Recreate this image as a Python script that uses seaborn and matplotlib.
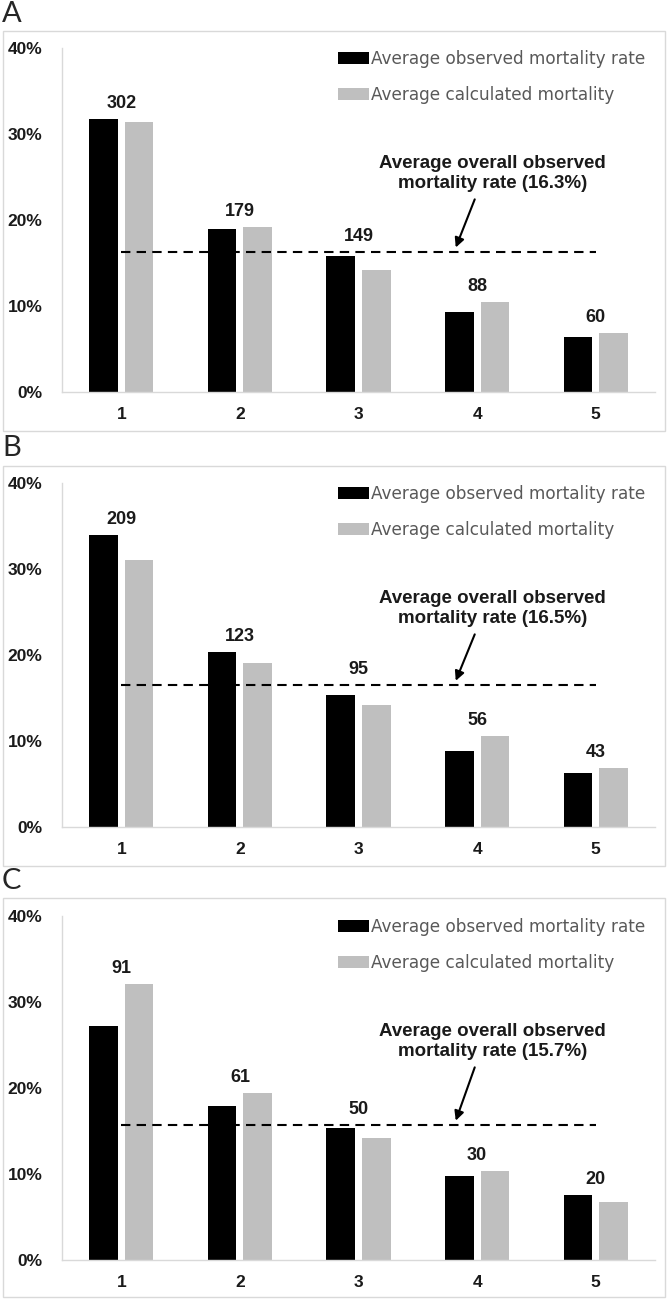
import matplotlib
matplotlib.use("Agg")
import matplotlib.pyplot as plt
from matplotlib.patches import Rectangle
import seaborn as sns
import pandas as pd

# quintile groups
groups = ["1", "2", "3", "4", "5"]
series_names = ["Average observed mortality rate", "Average calculated mortality"]

# panel A
obs_A = [31.7, 18.9, 15.8, 9.3, 6.4]
calc_A = [31.4, 19.2, 14.2, 10.5, 6.9]
n_A = [302, 179, 149, 88, 60]
avg_A = 16.3

# panel B
obs_B = [34.0, 20.3, 15.3, 8.8, 6.3]
calc_B = [31.1, 19.1, 14.2, 10.6, 6.9]
n_B = [209, 123, 95, 56, 43]
avg_B = 16.5

# panel C
obs_C = [27.2, 17.9, 15.3, 9.8, 7.6]
calc_C = [32.1, 19.4, 14.2, 10.4, 6.7]
n_C = [91, 61, 50, 30, 20]
avg_C = 15.7

panel_letters = ["A", "B", "C"]

sns.set_theme(style="white")
plt.rcParams['font.family'] = ['Liberation Sans', 'DejaVu Sans']

W, H = 668, 1299
fig = plt.figure(figsize=(W / 100, H / 100), dpi=100)

panels = [
    (obs_A, calc_A, n_A, avg_A),
    (obs_B, calc_B, n_B, avg_B),
    (obs_C, calc_C, n_C, avg_C),
]
# pixel layout: (axes top, axes bottom, frame top, frame bottom, letter top)
layout = [
    (48, 392, 31, 431, 1),
    (483, 827, 466, 866, 435),
    (916, 1260, 898, 1297, 868),
]

black = "#000000"
grey = "#bfbfbf"

for i, (obs, calc, ns, avg) in enumerate(panels):
    top, bot, ftop, fbot, ltop = layout[i]
    # frame round the panel
    fig.patches.append(Rectangle((3 / W, 1 - fbot / H), 662 / W, (fbot - ftop) / H,
                                 transform=fig.transFigure, fill=False,
                                 edgecolor="#d9d9d9", lw=1.0, zorder=0))
    fig.text(2 / W, 1 - ltop / H, panel_letters[i], fontsize=21, family='Lato',
             va='top', ha='left')

    ax = fig.add_axes([62 / W, 1 - bot / H, 593 / W, (bot - top) / H])
    df = pd.DataFrame({
        "group": groups * 2,
        "series": [series_names[0]] * 5 + [series_names[1]] * 5,
        "value": obs + calc,
    })
    sns.barplot(data=df, x="group", y="value", hue="series", hue_order=series_names,
                palette=[black, grey], width=0.6, gap=0.2, linewidth=0,
                ax=ax, legend=True)

    ax.set_xlim(-0.5, 4.5)
    ax.set_ylim(0, 40)
    ax.set_yticks([0, 10, 20, 30, 40])
    ax.set_yticklabels([f"{t}%" for t in [0, 10, 20, 30, 40]])
    ax.set_xlabel("")
    ax.set_ylabel("")
    ax.tick_params(length=0)
    ax.tick_params(axis='y', pad=14, labelsize=12.5)
    ax.tick_params(axis='x', pad=11, labelsize=12.5)
    for lab in ax.get_xticklabels() + ax.get_yticklabels():
        lab.set_fontweight('bold')
        lab.set_color('#1a1a1a')
    for s in ["top", "right"]:
        ax.spines[s].set_visible(False)
    for s in ["left", "bottom"]:
        ax.spines[s].set_color("#d9d9d9")
        ax.spines[s].set_linewidth(1.0)

    # overall average line from group 1 to group 5
    ax.hlines(avg, 0, 4, colors="black", lw=1.5, linestyles=(0, (4.5, 3)), zorder=5)

    # counts above each pair
    off = 1.8
    for j, n in enumerate(ns):
        y = max(obs[j], calc[j]) + off
        if abs(y - avg) < off:
            y = avg + off
        ax.text(j, y, str(n), ha='center', va='center', fontsize=13, fontweight='bold',
                color='#1a1a1a')

    ax.text(3.13, 25.4, f"Average overall observed\nmortality rate ({avg}%)",
            ha='center', va='center', fontsize=13.5, fontweight='bold', linespacing=1.2,
            color='#1a1a1a')
    ax.annotate("", xy=(2.82, avg + 0.5), xytext=(2.98, 22.4),
                arrowprops=dict(arrowstyle='-|>', color='black', lw=1.5,
                                mutation_scale=14, shrinkA=0, shrinkB=0))

    handles, labels = ax.get_legend_handles_labels()
    ax.legend(handles, labels, loc='upper right', bbox_to_anchor=(1.0, 1.025),
              frameon=False, handlelength=1.8, handleheight=0.7,
              handletextpad=0.1, labelspacing=1.1, borderaxespad=0.2,
              labelcolor="#595959", prop={'family': 'DejaVu Sans', 'size': 12.2})

fig.savefig("out.png", dpi=100)
